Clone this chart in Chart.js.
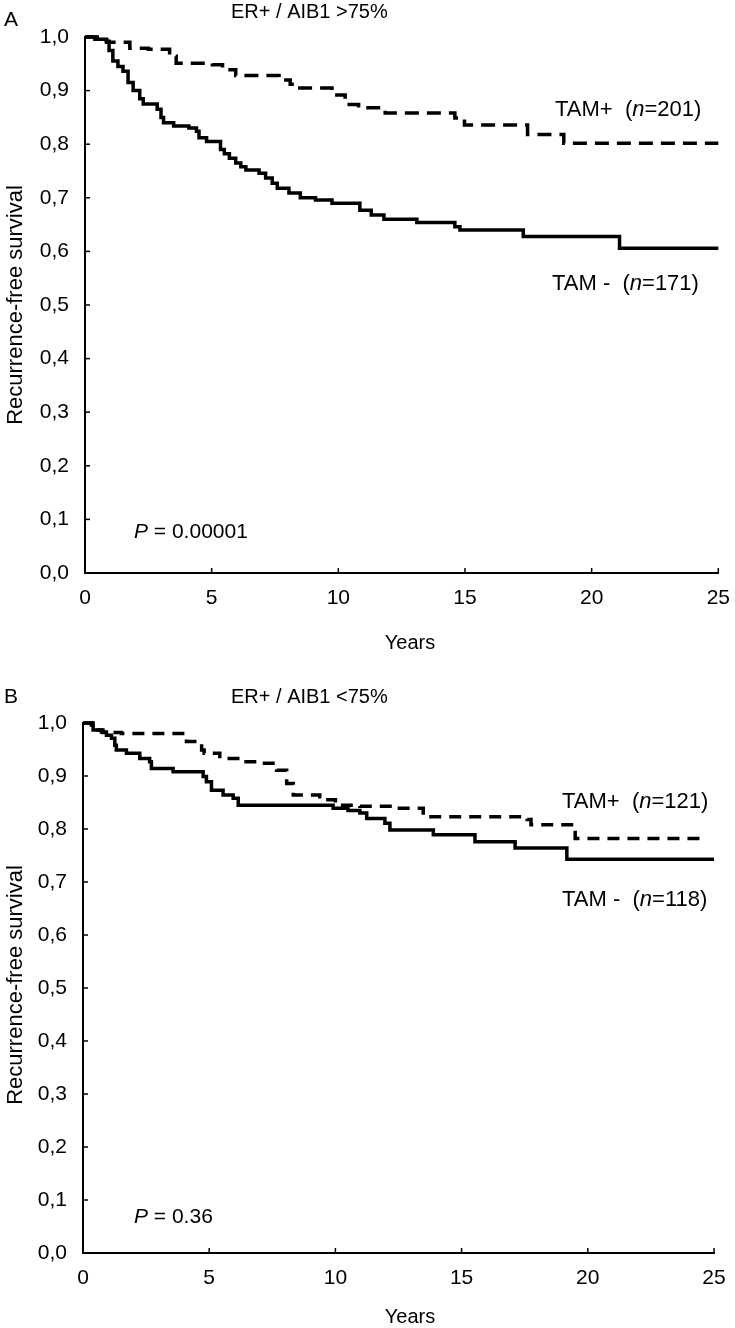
<!DOCTYPE html>
<html>
<head>
<meta charset="utf-8">
<script src="https://cdn.jsdelivr.net/npm/chart.js@4.4.0/dist/chart.umd.min.js"></script>
<style>
  html, body { margin: 0; padding: 0; background: #fff; }
  .panel { position: absolute; left: 0; width: 735px; height: 664px; }
</style>
</head>
<body>
<div class="panel" style="top:0"><canvas id="chartA" width="735" height="664"></canvas></div>
<div class="panel" style="top:664px"><canvas id="chartB" width="735" height="664"></canvas></div>
<script>
// tick labels (comma decimals as in the original figure)
const xTickLabels = ['0', '5', '10', '15', '20', '25'];
const yTickLabels = ['0,0', '0,1', '0,2', '0,3', '0,4', '0,5', '0,6', '0,7', '0,8', '0,9', '1,0'];

// Panel A: ER+ / AIB1 >75%  (time of each step, survival after it)
const aMinusYears = [0, 0.39, 0.85, 0.95, 1.1, 1.3, 1.5, 1.7, 1.9, 2.16, 2.3, 2.85, 3.0, 3.1, 3.5, 4.1, 4.4, 4.5, 4.8, 5.35, 5.5, 5.7, 5.95, 6.15, 6.35, 6.87, 7.13, 7.39, 7.59, 8.05, 8.5, 9.1, 9.75, 10.85, 11.3, 11.8, 13.1, 14.6, 14.8, 17.3, 21.1, 25];
const aMinusSurv  = [1.0, 0.996, 0.992, 0.975, 0.955, 0.945, 0.936, 0.915, 0.9, 0.885, 0.875, 0.865, 0.85, 0.84, 0.834, 0.83, 0.824, 0.812, 0.805, 0.79, 0.782, 0.774, 0.765, 0.758, 0.752, 0.746, 0.737, 0.727, 0.718, 0.709, 0.7, 0.696, 0.69, 0.677, 0.668, 0.66, 0.654, 0.646, 0.64, 0.628, 0.606, 0.606];
const aPlusYears  = [0, 0.6, 0.85, 1.77, 2.5, 3.34, 3.6, 5.03, 5.43, 5.95, 7.66, 8.1, 8.3, 9.75, 10.27, 10.8, 11.85, 14.6, 14.98, 17.47, 18.9, 25];
const aPlusSurv   = [1.0, 0.995, 0.99, 0.979, 0.977, 0.964, 0.951, 0.948, 0.939, 0.928, 0.92, 0.912, 0.905, 0.892, 0.874, 0.868, 0.858, 0.849, 0.836, 0.818, 0.802, 0.802];

// Panel B: ER+ / AIB1 <75%
const bMinusYears = [0, 0.4, 0.73, 0.93, 1.13, 1.26, 1.32, 1.72, 2.25, 2.64, 2.71, 3.57, 4.76, 4.89, 5.09, 5.55, 5.95, 6.15, 9.91, 10.5, 10.97, 11.24, 11.96, 12.16, 13.88, 15.53, 17.12, 19.17, 25];
const bMinusSurv  = [1.0, 0.987, 0.983, 0.977, 0.971, 0.958, 0.949, 0.943, 0.933, 0.927, 0.914, 0.908, 0.899, 0.889, 0.873, 0.864, 0.858, 0.845, 0.839, 0.835, 0.83, 0.82, 0.811, 0.798, 0.789, 0.776, 0.764, 0.743, 0.743];
const bPlusYears  = [0, 0.33, 0.45, 0.79, 1.52, 4.03, 4.1, 4.7, 4.8, 5.42, 6.21, 7.0, 7.67, 8.07, 8.33, 9.38, 9.45, 10.0, 10.97, 12.43, 13.48, 17.6, 17.75, 19.43, 19.5, 24.65];
const bPlusSurv   = [1.0, 0.993, 0.987, 0.982, 0.98, 0.975, 0.965, 0.949, 0.943, 0.933, 0.927, 0.924, 0.911, 0.886, 0.864, 0.861, 0.855, 0.845, 0.843, 0.839, 0.823, 0.818, 0.808, 0.8, 0.782, 0.782];

const FONT = '"Liberation Sans", Arial, sans-serif';

function toPoints(xs, ys) {
  return xs.map((x, i) => ({ x: x, y: ys[i] }));
}

// writes pieces of text one after another, some in italic
function drawRuns(ctx, runs, x, y, size) {
  let cx = x;
  runs.forEach(r => {
    ctx.font = (r[1] ? 'italic ' : '') + size + 'px ' + FONT;
    ctx.fillText(r[0], cx, y);
    cx += ctx.measureText(r[0]).width;
  });
}

// labels, titles and inward ticks
const panelText = {
  id: 'panelText',
  afterDraw(chart, args, o) {
    const ctx = chart.ctx;
    const xs = chart.scales.x, ys = chart.scales.y;
    const area = chart.chartArea;
    ctx.save();
    ctx.strokeStyle = '#000';
    ctx.lineWidth = 1.5;
    xs.ticks.forEach((t, i) => {
      const px = xs.getPixelForTick(i);
      ctx.beginPath(); ctx.moveTo(px, area.bottom); ctx.lineTo(px, area.bottom - 5); ctx.stroke();
    });
    ys.ticks.forEach((t, i) => {
      const py = ys.getPixelForTick(i);
      ctx.beginPath(); ctx.moveTo(area.left, py); ctx.lineTo(area.left + 5, py); ctx.stroke();
    });

    ctx.fillStyle = '#000';
    ctx.textBaseline = 'middle';
    ctx.textAlign = 'left';
    ctx.font = '21px ' + FONT;
    ctx.fillText(o.letter, 4, o.letterY);
    ctx.font = '20px ' + FONT;
    ctx.fillText(o.title, 231, o.titleY);
    ctx.textAlign = 'center';
    ctx.font = '20px ' + FONT;
    ctx.fillText('Years', 410, o.yearsY);

    ctx.save();
    ctx.translate(16, o.yTitleY);
    ctx.rotate(-Math.PI / 2);
    ctx.font = '22px ' + FONT;
    ctx.fillText('Recurrence-free survival', 0, 0);
    ctx.restore();

    ctx.textAlign = 'left';
    drawRuns(ctx, [['TAM+  (', false], ['n', true], ['=' + o.nPlus + ')', false]], o.plusX, o.plusY, 22);
    drawRuns(ctx, [['TAM -  (', false], ['n', true], ['=' + o.nMinus + ')', false]], o.minusX, o.minusY, 22);
    drawRuns(ctx, [['P', true], [' = ' + o.pValue, false]], 134, o.pY, 21);
    ctx.restore();
  }
};

function makeChart(id, minus, plus, pad, dash, text) {
  new Chart(document.getElementById(id), {
    type: 'line',
    data: {
      datasets: [
        { label: 'TAM -', data: minus, borderColor: '#000', borderWidth: 3.5, stepped: 'before', pointRadius: 0, fill: false, clip: false },
        { label: 'TAM+', data: plus, borderColor: '#000', borderWidth: 3.5, borderDash: dash, stepped: 'before', pointRadius: 0, fill: false, clip: false }
      ]
    },
    options: {
      responsive: false,
      animation: false,
      events: [],
      layout: { padding: { left: 0, top: pad.top, right: pad.right, bottom: 0 } },
      plugins: { legend: { display: false }, tooltip: { enabled: false }, panelText: text },
      scales: {
        x: {
          type: 'linear', min: 0, max: 25,
          afterFit: s => { s.height = 664 - pad.bottom; },
          grid: { display: false },
          border: { display: true, color: '#000', width: 2 },
          ticks: { stepSize: 5, padding: 5, color: '#000', font: { family: FONT, size: 21 },
                   callback: (v, i) => xTickLabels[i] }
        },
        y: {
          min: 0, max: 1,
          afterFit: s => { s.width = pad.left; },
          grid: { display: false },
          border: { display: true, color: '#000', width: 2 },
          ticks: { stepSize: 0.1, padding: 8, color: '#000', font: { family: FONT, size: 21 },
                   callback: (v, i) => yTickLabels[i] }
        }
      }
    },
    plugins: [panelText]
  });
}

makeChart('chartA', toPoints(aMinusYears, aMinusSurv), toPoints(aPlusYears, aPlusSurv),
  { left: 85, top: 37, right: 13, bottom: 573 }, [14, 8],
  { letter: 'A', letterY: 20, title: 'ER+ / AIB1 >75%', titleY: 12, yearsY: 643, yTitleY: 305,
    nPlus: 201, nMinus: 171, plusX: 555, plusY: 110, minusX: 552, minusY: 284, pValue: '0.00001', pY: 532 });

makeChart('chartB', toPoints(bMinusYears, bMinusSurv), toPoints(bPlusYears, bPlusSurv),
  { left: 83, top: 59, right: 21, bottom: 589 }, [12, 8],
  { letter: 'B', letterY: 33, title: 'ER+ / AIB1 <75%', titleY: 33, yearsY: 653, yTitleY: 321,
    nPlus: 121, nMinus: 118, plusX: 562, plusY: 138, minusX: 562, minusY: 236, pValue: '0.36', pY: 553 });
</script>
</body>
</html>
